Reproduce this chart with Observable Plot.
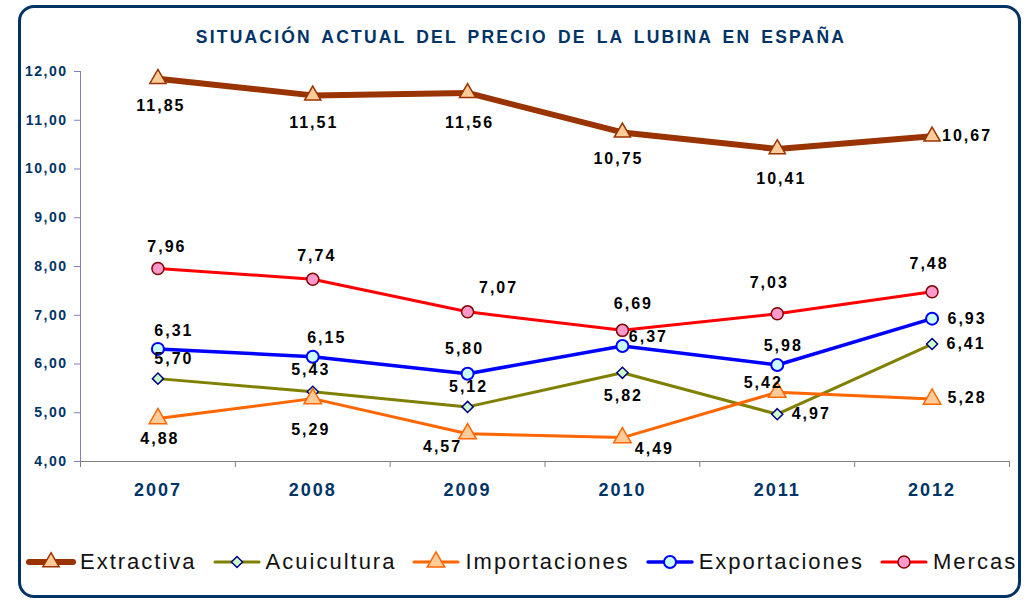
<!DOCTYPE html>
<html><head><meta charset="utf-8">
<script src="https://cdn.jsdelivr.net/npm/d3@7"></script>
<script src="https://cdn.jsdelivr.net/npm/@observablehq/plot@0.6"></script>
<style>
html,body{margin:0;padding:0;background:#fff;}
#wrap{position:relative;width:1031px;height:600px;overflow:hidden;font-family:"Liberation Sans",Arial,sans-serif;}
#frame{position:absolute;left:18px;top:5px;width:1003px;height:593px;box-sizing:border-box;border:3px solid #003366;border-radius:16px;pointer-events:none;}
#title{position:absolute;left:0;width:1042px;top:27px;text-align:center;font-weight:bold;font-size:17.5px;letter-spacing:2.2px;word-spacing:3px;color:#003366;line-height:20px;}
#chart{position:absolute;left:0;top:0;}
#legend{position:absolute;left:27px;top:548px;display:flex;align-items:center;height:28px;}
.item{display:flex;align-items:center;margin-right:16px;}
.item span{font-size:22px;letter-spacing:2px;color:#111;margin-left:5px;line-height:26px;}
.item svg{display:block;overflow:visible;}
</style></head>
<body>
<div id="wrap">
  <div id="chart"></div>
  <div id="title"></div>
  <div id="legend"></div>
  <div id="frame"></div>
</div>
<script>
// ---- data ----
const title = "SITUACIÓN ACTUAL DEL PRECIO DE LA LUBINA EN ESPAÑA";
const years = [2007, 2008, 2009, 2010, 2011, 2012];
const seriesNames = ["Extractiva", "Acuicultura", "Importaciones", "Exportaciones", "Mercas"];
const extractiva    = [11.85, 11.51, 11.56, 10.75, 10.41, 10.67];
const acuicultura   = [5.70, 5.43, 5.12, 5.82, 4.97, 6.41];
const importaciones = [4.88, 5.29, 4.57, 4.49, 5.42, 5.28];
const exportaciones = [6.31, 6.15, 5.80, 6.37, 5.98, 6.93];
const mercas        = [7.96, 7.74, 7.07, 6.69, 7.03, 7.48];
const yTicks = [4, 5, 6, 7, 8, 9, 10, 11, 12];

// ---- styles / layout ----
const seriesValues = [extractiva, acuicultura, importaciones, exportaciones, mercas];
const styles = {
  Extractiva:    {line: "#993300", width: 6,   symbol: "triangle", r: 6,   fill: "#FFCC99", stroke: "#993300", sw: 1.5},
  Acuicultura:   {line: "#808000", width: 3,   symbol: "diamond2", r: 5,   fill: "#CCFFCC", stroke: "#000080", sw: 1.5},
  Importaciones: {line: "#FF6600", width: 3,   symbol: "triangle", r: 6.5, fill: "#FFCC99", stroke: "#FF6600", sw: 1.5},
  Exportaciones: {line: "#0000FF", width: 3.5, symbol: "circle",   r: 6,   fill: "#CCFFFF", stroke: "#0000FF", sw: 2},
  Mercas:        {line: "#FF0000", width: 3,   symbol: "circle",   r: 6,   fill: "#FF99CC", stroke: "#800000", sw: 1.5}
};
const labelOffsets = {
  Extractiva:    [[3,27],[1,27],[2,30],[-4,26],[4,30],[35,0]],
  Acuicultura:   [[16,-20],[-2,-22],[1,-20],[1,23],[34,0],[34,0]],
  Importaciones: [[2,20],[-2,31],[-25,13],[32,11],[-14,-9],[35,-1]],
  Exportaciones: [[16,-18],[14,-19],[-3,-25],[26,-9],[6,-19],[35,0]],
  Mercas:        [[9,-22],[4,-23],[31,-24],[11,-26],[-8,-31],[-3,-28]]
};

const fmt = v => v.toFixed(2).replace(".", ",");
const rows = [];
seriesNames.forEach((name, i) => seriesValues[i].forEach((v, j) => rows.push({series: name, year: years[j], value: v, idx: j})));
const bounds = [years[0] - 0.5, ...years.map(y => y + 0.5)];

const marks = [
  Plot.ruleY([yTicks[0]], {stroke: "#808080", strokeWidth: 1}),
  Plot.ruleX([bounds[0]], {y1: yTicks[0], y2: yTicks[yTicks.length - 1], stroke: "#8080C0", strokeWidth: 1}),
  Plot.axisY({ticks: yTicks, tickSize: 6, tickPadding: 7, tickFormat: fmt, stroke: "#8080C0", fill: "#003366", fontSize: 14, fontWeight: "bold", label: null}),
  Plot.axisX({ticks: bounds, tickSize: 6, tickFormat: () => "", stroke: "#808080", label: null}),
  Plot.axisX({ticks: years, tickSize: 0, tickPadding: 22, tickFormat: d => String(d), fill: "#003366", fontSize: 18, fontWeight: "bold", label: null})
];
seriesNames.forEach(name => {
  const st = styles[name];
  const data = rows.filter(d => d.series === name);
  marks.push(Plot.line(data, {x: "year", y: "value", stroke: st.line, strokeWidth: st.width, strokeLinejoin: "round"}));
  marks.push(Plot.dot(data, {x: "year", y: "value", symbol: st.symbol, r: st.r, fill: st.fill, stroke: st.stroke, strokeWidth: st.sw}));
});
rows.forEach(d => {
  const [dx, dy] = labelOffsets[d.series][d.idx];
  marks.push(Plot.text([d], {x: "year", y: "value", text: r => fmt(r.value), dx, dy, fontSize: 16, fontWeight: "bold", fill: "#000"}));
});

const chart = Plot.plot({
  width: 1031, height: 520,
  marginLeft: 80, marginRight: 22, marginTop: 71, marginBottom: 59,
  x: {domain: [bounds[0], bounds[bounds.length - 1]]},
  y: {domain: [yTicks[0], yTicks[yTicks.length - 1]]},
  style: {fontFamily: '"Liberation Sans", Arial, sans-serif', background: "transparent", overflow: "visible"},
  marks
});
chart.querySelectorAll("text").forEach(t => {
  const g = t.closest("g[aria-label]");
  const lab = g ? g.getAttribute("aria-label") : "";
  let ls = "2px";
  if (lab === "y-axis tick label") ls = "1.5px";
  t.style.letterSpacing = ls;
});
document.getElementById("chart").appendChild(chart);
document.getElementById("title").textContent = title;

// ---- legend ----
const legend = d3.select("#legend");
const symMap = {triangle: d3.symbolTriangle, diamond2: d3.symbolDiamond2, circle: d3.symbolCircle};
seriesNames.forEach(name => {
  const st = styles[name];
  const item = legend.append("div").attr("class", "item");
  const svg = item.append("svg").attr("width", 48).attr("height", 20);
  svg.append("line").attr("x1", 2).attr("x2", 46).attr("y1", 10).attr("y2", 10)
    .attr("stroke", st.line).attr("stroke-width", st.width).attr("stroke-linecap", "round");
  svg.append("path").attr("transform", "translate(24,10)")
    .attr("d", d3.symbol(symMap[st.symbol], Math.PI * st.r * st.r)())
    .attr("fill", st.fill).attr("stroke", st.stroke).attr("stroke-width", st.sw);
  item.append("span").text(name);
});
</script>
</body></html>
